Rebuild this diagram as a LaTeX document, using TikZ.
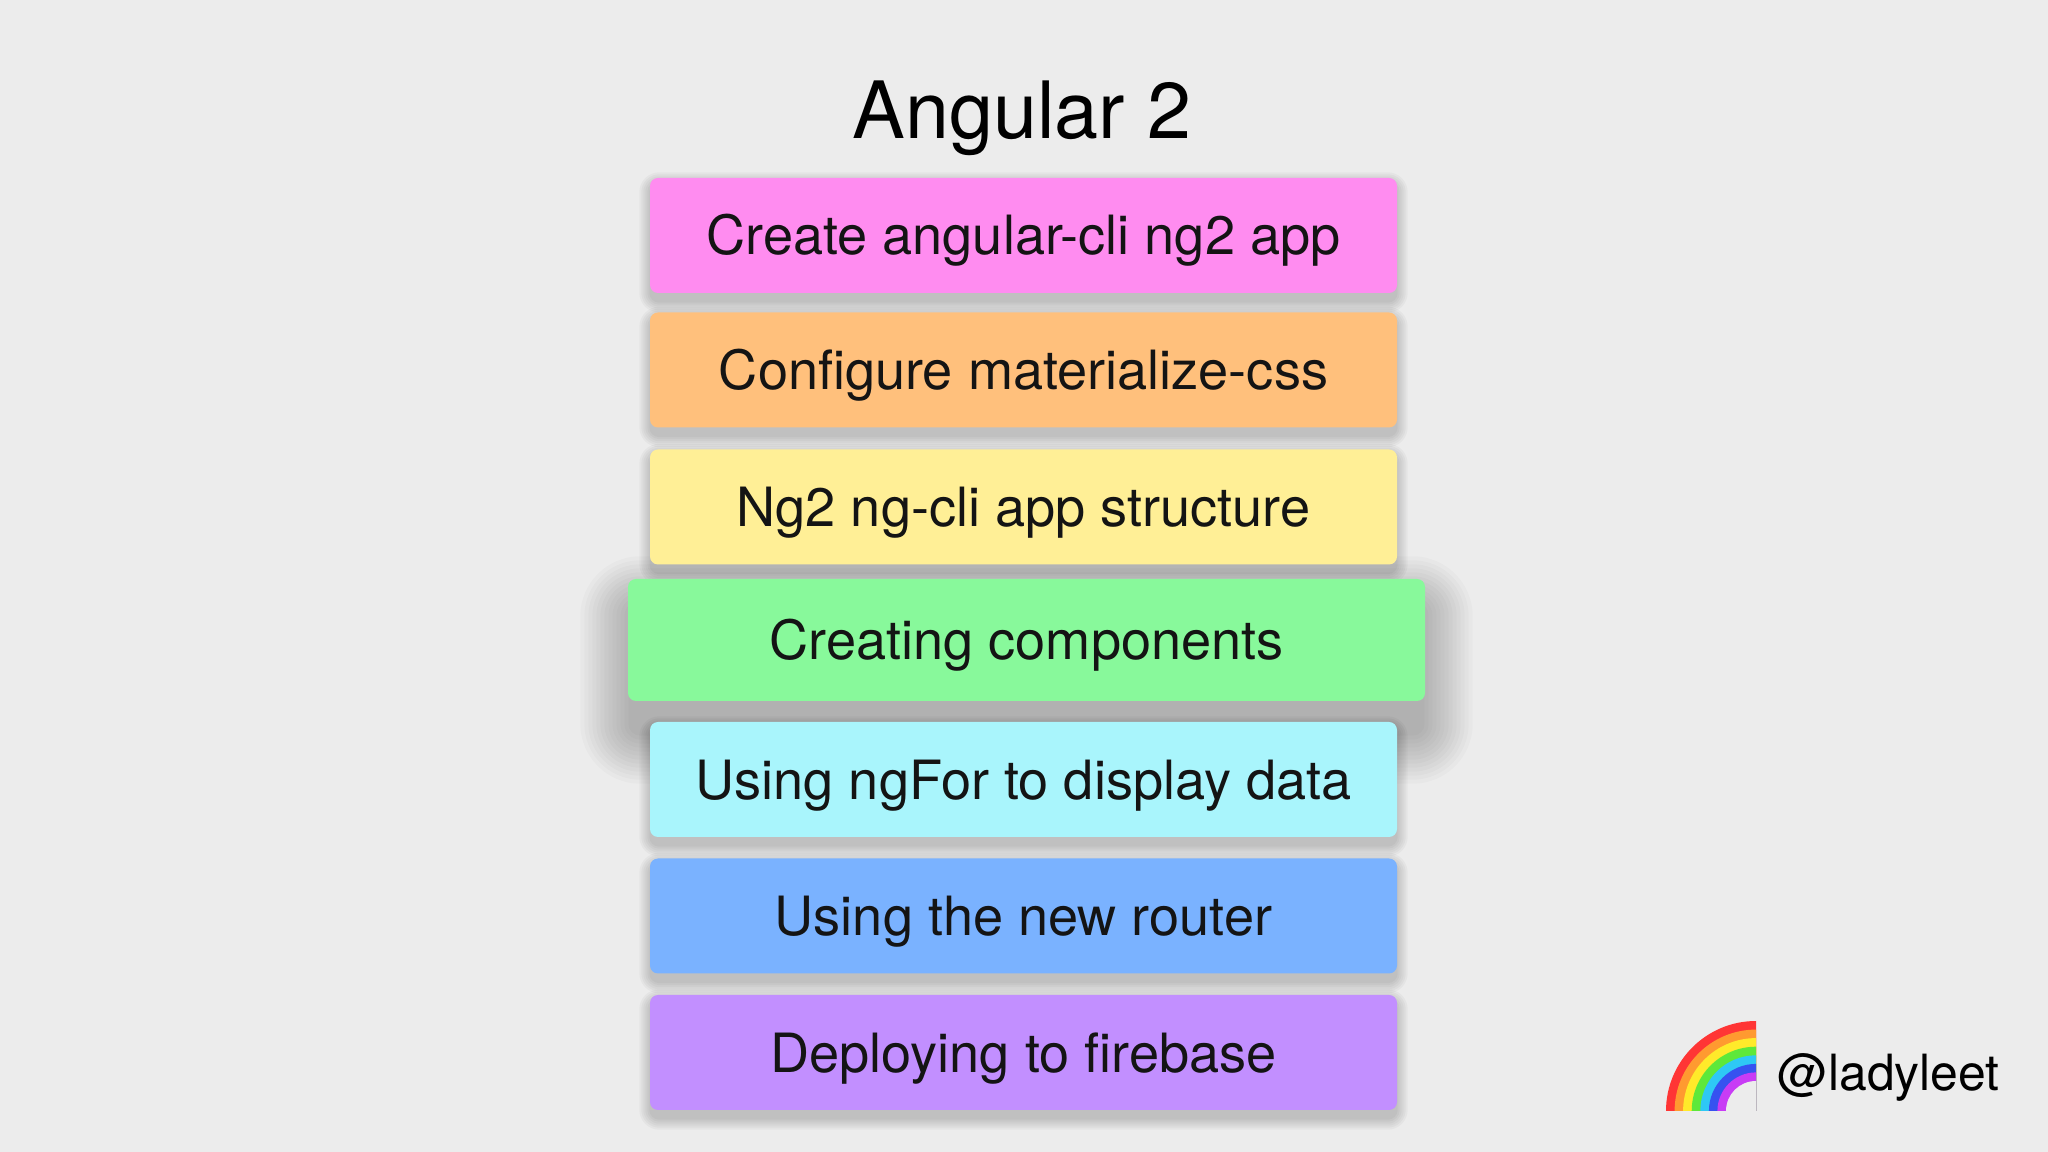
\documentclass[tikz,border=0pt]{standalone}
\usepackage{fontspec}
\setmainfont{TeX Gyre Heros}
\pgfdeclarelayer{bgfill}
\pgfdeclarelayer{shadowlayer}
\pgfsetlayers{bgfill,shadowlayer,main}
\definecolor{bg}{HTML}{ECECEC}
\definecolor{cpink}{HTML}{FF8CF0}
\definecolor{corange}{HTML}{FFC07C}
\definecolor{cyellow}{HTML}{FFEF96}
\definecolor{cgreen}{HTML}{88F99B}
\definecolor{ccyan}{HTML}{A9F5FC}
\definecolor{cblue}{HTML}{7AB2FF}
\definecolor{cpurple}{HTML}{C28FFF}
\definecolor{rbred}{HTML}{FF3535}
\definecolor{rborange}{HTML}{FF9A30}
\definecolor{rbyellow}{HTML}{FFEA2A}
\definecolor{rbgreen}{HTML}{5EE83A}
\definecolor{rbcyan}{HTML}{2EC8F5}
\definecolor{rbblue}{HTML}{3652F0}
\definecolor{rbmagenta}{HTML}{C83CF5}
\tikzset{
  boxbase/.style={rectangle, rounded corners=0.8mm, inner sep=0pt,
    font=\fontsize{15.4}{18}\selectfont, text=black!92,
    text height=11.1pt, text depth=0pt},
  stepbox/.style={boxbase, minimum width=74.7mm, minimum height=11.5mm},
  bigbox/.style={boxbase, minimum width=79.7mm, minimum height=12.2mm},
  smallshade/.style={fill=black, opacity=0.03},
  bigshade/.style={fill=black, opacity=0.02},
  titletext/.style={font=\fontsize{22.5}{26}\selectfont, inner sep=0pt, anchor=base},
  handletext/.style={font=\fontsize{14.2}{17}\selectfont, inner sep=0pt, anchor=base west}
}
\begin{document}
\begin{tikzpicture}[x=0.1mm, y=-0.1mm]
  \begin{pgfonlayer}{bgfill}
    \fill[bg] (0,0) rectangle (2048,1152);
  \end{pgfonlayer}
  \useasboundingbox (0,0) rectangle (2048,1152);

  \node[titletext] (title) at (1022,139) {Angular 2};

  \node[stepbox, fill=cpink] (b1) at (1023.5,235.5) {Create angular-cli ng2 app};
  \node[stepbox, fill=corange] (b2) at (1023.5,370) {Configure materialize-css};
  \node[stepbox, fill=cyellow] (b3) at (1023.5,507) {Ng2 ng-cli app structure};
  \node[bigbox, fill=cgreen] (b4) at (1026.5,640) {Creating components};
  \node[stepbox, fill=ccyan] (b5) at (1023.5,779.5) {Using ngFor to display data};
  \node[stepbox, fill=cblue] (b6) at (1023.5,916) {Using the new router};
  \node[stepbox, fill=cpurple] (b7) at (1023.5,1052.5) {Deploying to firebase};

  \begin{pgfonlayer}{shadowlayer}
    \foreach \b in {b1,b2,b3,b5,b6,b7}{
      \foreach \e in {0.2,0.4,0.6,0.8,1.0,1.2}{
        \fill[smallshade, rounded corners=0.8mm+\e mm]
          ([xshift=-\e mm+0.2mm, yshift=\e mm-0.7mm]\b.north west)
          rectangle ([xshift=\e mm-0.2mm, yshift=-\e mm-0.7mm]\b.south east);
      }
    }
    \foreach \e in {0.4,0.8,1.2,1.6,2.0,2.4,2.8,3.2,3.6,4.0,4.4,4.8,5.2}{
      \fill[bigshade, rounded corners=0.8mm+\e mm]
        ([xshift=-\e mm+0.5mm, yshift=\e mm-3mm]b4.north west)
        rectangle ([xshift=\e mm-0.5mm, yshift=-\e mm-3mm]b4.south east);
    }
  \end{pgfonlayer}

  \coordinate (rb) at (1756,1111);
  \foreach \r/\c in {9.0/rbred, 8.14/rborange, 7.29/rbyellow, 6.43/rbgreen, 5.57/rbcyan, 4.71/rbblue, 3.86/rbmagenta, 3.0/bg}{
    \fill[\c] (rb) -- ++(180:\r mm) arc[start angle=180, end angle=90, radius=\r mm] -- cycle;
  }
  \node[handletext] (handle) at (1777,1091) {@ladyleet};
\end{tikzpicture}
\end{document}
